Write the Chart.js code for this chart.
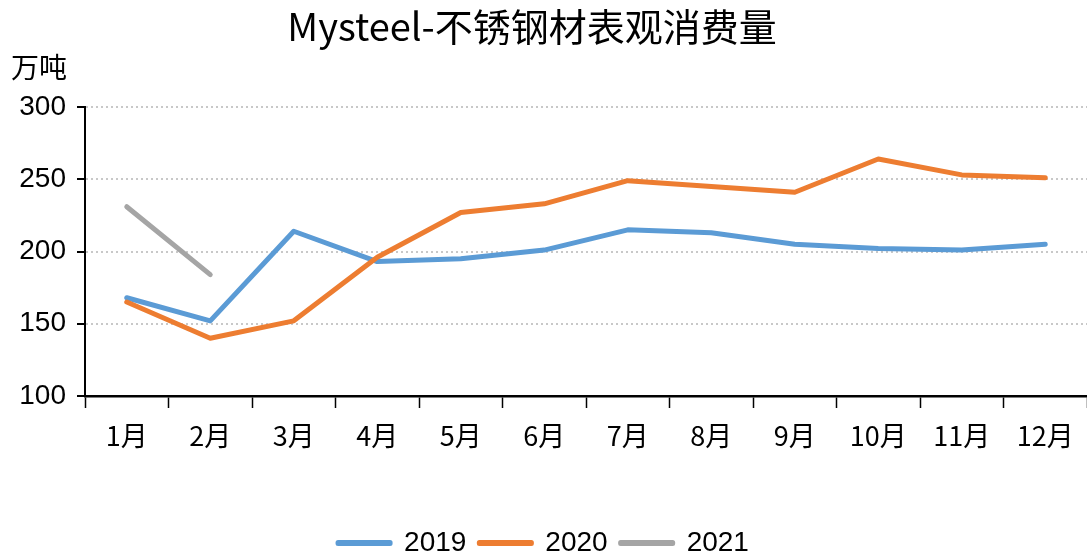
<!DOCTYPE html>
<html>
<head>
<meta charset="utf-8">
<script src="https://cdn.jsdelivr.net/npm/chart.js@4"></script>
<style>
  html, body { margin: 0; padding: 0; background: #fff; }
  #wrap { width: 1087px; height: 556px; }
</style>
</head>
<body>
<div id="wrap"><canvas id="consumption" width="1087" height="556"></canvas></div>
<script>
const months = ['1月', '2月', '3月', '4月', '5月', '6月', '7月', '8月', '9月', '10月', '11月', '12月'];
const y2019 = [168, 152, 214, 193, 195, 201, 215, 213, 205, 202, 201, 205];
const y2020 = [165, 140, 152, 196, 227, 233, 249, 245, 241, 264, 253, 251];
const y2021 = [231, 184];

const chartTitle = 'Mysteel-不锈钢材表观消费量';
const unitLabel = '万吨';

const cjkFont = '"Noto Sans CJK SC", "Liberation Sans", sans-serif';
const numFont = '"Liberation Sans", Arial, sans-serif';

// title and unit are painted straight onto the canvas above the plot
const headerText = {
  id: 'headerText',
  afterDraw(chart) {
    const ctx = chart.ctx;
    ctx.save();
    ctx.fillStyle = '#000';
    ctx.textBaseline = 'middle';
    ctx.textAlign = 'center';
    ctx.font = '38px ' + cjkFont;
    ctx.fillText(chartTitle, 532, 27);
    ctx.textAlign = 'left';
    ctx.font = '28px ' + cjkFont;
    ctx.fillText(unitLabel, 11, 67);
    ctx.restore();
  }
};

function series(label, data, color, order) {
  return {
    label: label,
    data: data,
    borderColor: color,
    backgroundColor: color,
    borderWidth: 5,
    borderCapStyle: 'round',
    borderJoinStyle: 'round',
    pointRadius: 0,
    tension: 0,
    order: order
  };
}

new Chart(document.getElementById('consumption'), {
  type: 'line',
  data: {
    labels: months,
    datasets: [
      series('2019', y2019, '#5b9bd5', 3),
      series('2020', y2020, '#ed7d31', 2),
      series('2021', y2021, '#a5a5a5', 1)
    ]
  },
  options: {
    responsive: false,
    animation: false,
    layout: { padding: { top: 107, left: 0, right: 0, bottom: -11 } },
    plugins: {
      title: { display: false },
      tooltip: { enabled: false },
      legend: {
        position: 'bottom',
        labels: {
          // the 5px series stroke wraps this thin box into a rounded bar
          boxWidth: 52,
          boxHeight: 1,
          padding: 13,
          color: '#000',
          font: { size: 28, family: numFont },
          sort: (a, b) => a.datasetIndex - b.datasetIndex
        }
      }
    },
    scales: {
      x: {
        offset: true,
        afterFit(scale) { scale.height = 120; },
        grid: {
          offset: true,
          drawOnChartArea: false,
          drawTicks: true,
          tickLength: 12,
          tickColor: '#000',
          tickWidth: 1.5
        },
        border: { color: '#000', width: 2.5 },
        ticks: {
          color: '#000',
          padding: 12,
          maxRotation: 0,
          font: { size: 27, family: cjkFont }
        }
      },
      y: {
        min: 100,
        max: 300,
        afterFit(scale) { scale.width = 85; },
        grid: {
          color: '#c8c8c8',
          lineWidth: 2,
          drawTicks: true,
          tickLength: 8,
          tickColor: '#000',
          tickWidth: 2
        },
        border: { color: '#000', width: 2, dash: [2, 3] },
        ticks: {
          stepSize: 50,
          color: '#000',
          padding: 11,
          font: { size: 28, family: numFont }
        }
      }
    }
  },
  plugins: [headerText]
});
</script>
</body>
</html>
